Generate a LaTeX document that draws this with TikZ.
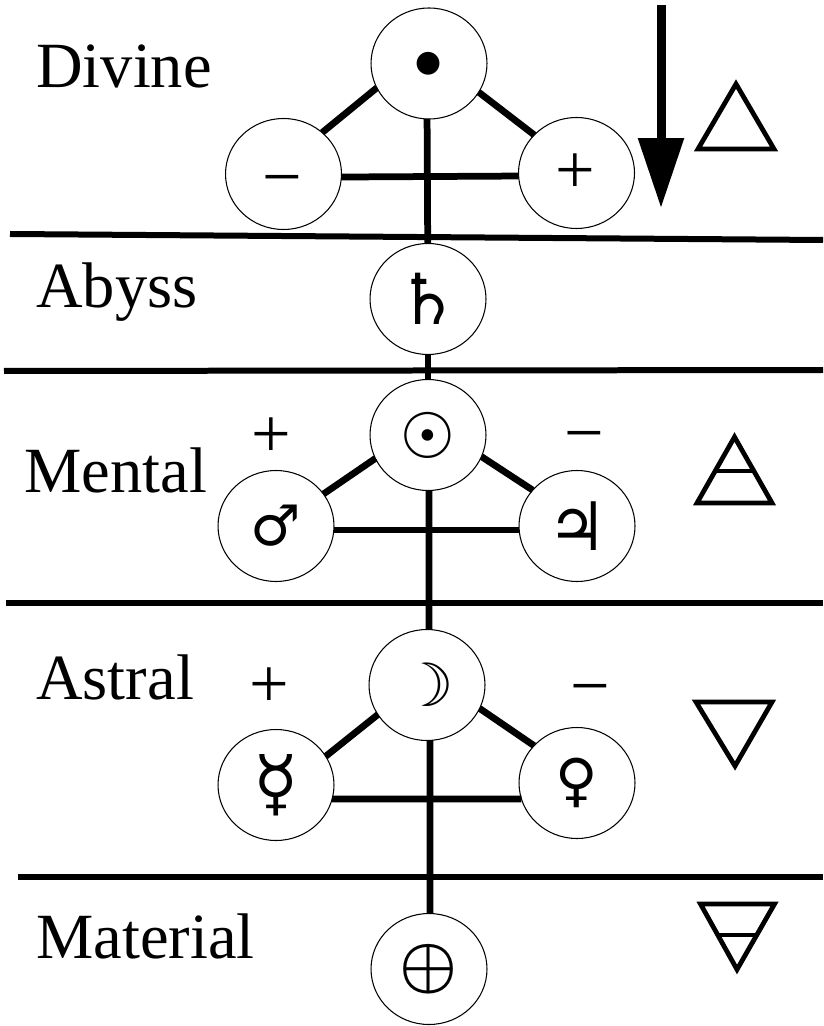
\documentclass[tikz,border=0pt]{standalone}
\usepackage{fontspec}
\usetikzlibrary{shapes.geometric,arrows.meta}
\setmainfont{Liberation Serif}
\newfontfamily\symfont{DejaVu Sans}
\tikzset{
  planet/.style={ellipse,draw,fill=white,line width=0.6pt,minimum width=2.32cm,minimum height=2.22cm,inner sep=0pt,outer sep=0pt},
  glyph/.style={font=\symfont\fontsize{#1}{#1}\selectfont},
  link/.style={line width=0.135cm},
  divider/.style={line width=0.12cm},
  plane/.style={anchor=base west,inner sep=0pt,font=\fontsize{36.7}{40}\selectfont},
  sign/.style={inner sep=0pt,font=\fontsize{40}{44}\selectfont},
  element/.style={line width=0.095cm,miter limit=10}
}
\begin{document}
\begin{tikzpicture}[x=0.02cm,y=-0.02cm]
\useasboundingbox (0,0) rectangle (823,1026);
% planes
\node[plane] (divine) at (36,88) {Divine};
\node[plane] (abyss) at (36,308) {Abyss};
\node[plane] (mental) at (24,492) {Mental};
\node[plane] (astral) at (36,699) {Astral};
\node[plane] (material) at (36,958) {Material};
% dividers
\draw[divider] (10,234) -- (823,240);
\draw[divider] (4,371) -- (823,370);
\draw[divider] (6,603) -- (823,603);
\draw[divider] (18,877) -- (823,877);
% planets
\node[planet,glyph=17] (point) at (429,63.5) {●};
\node[planet] (minus) at (283.5,174) {};
\node[planet] (plus) at (576.5,173) {};
\node[planet,glyph=40] (saturn) at (428,299) {♄};
\node[planet,glyph=36] (sun) at (428,435) {☉};
\node[planet,glyph=32] (mars) at (276,526) {♂};
\node[planet,glyph=38] (jupiter) at (577,526) {♃};
\node[planet,glyph=34] (moon) at (427,685) {☽};
\node[planet,glyph=42] (mercury) at (276,785) {☿};
\node[planet,glyph=33] (venus) at (577,783) {♀};
\node[planet] (earth) at (429,969) {\scalebox{3.7}{\boldmath$\oplus$}};
% signs
\node[sign] (minussign) at (282,188) {−};
\node[sign] (plussign) at (575,174) {+};
\node[sign] (marsplus) at (271,438) {+};
\node[sign] (jupiterminus) at (584,444) {−};
\node[sign] (mercuryplus) at (269,688) {+};
\node[sign] (venusminus) at (590,697) {−};
% links
\draw[link] (point.205) -- (minus.47);
\draw[link] (point.-30) -- (plus.138);
\draw[link] (minus.-3) -- (plus.183);
\draw[link] (point.-92) -- (saturn);
\draw[link] (saturn) -- (sun);
\draw[link] (sun.204) -- (mars.34);
\draw[link] (sun.-22) -- (jupiter.141);
\draw[link] (mars.-4) -- (jupiter.184);
\draw[link] (sun.-89) -- (moon.88);
\draw[link] (moon.211) -- (mercury.30);
\draw[link] (moon.-24) -- (venus.139);
\draw[link] (mercury.-14) -- (venus.196);
\draw[link] (moon.-87) -- (earth.89);
% descent
\coordinate (top) at (661,5);
\coordinate (tip) at (661,208);
\draw[line width=0.18cm,-{Triangle[length=1.4cm,width=0.88cm]}] (top) -- (tip);
% elements
\draw[element] (736,84) -- (774,149) -- (698,149) -- cycle;
\draw[element] (734.5,437) -- (772,503) -- (697,503) -- cycle;
\draw[element] (716,471) -- (753,471);
\draw[element] (696,702) -- (772,702) -- (735,766) -- cycle;
\draw[element] (700.5,904) -- (774.5,904) -- (737,969.5) -- cycle;
\draw[element] (718,935) -- (755,935);
\end{tikzpicture}
\end{document}
